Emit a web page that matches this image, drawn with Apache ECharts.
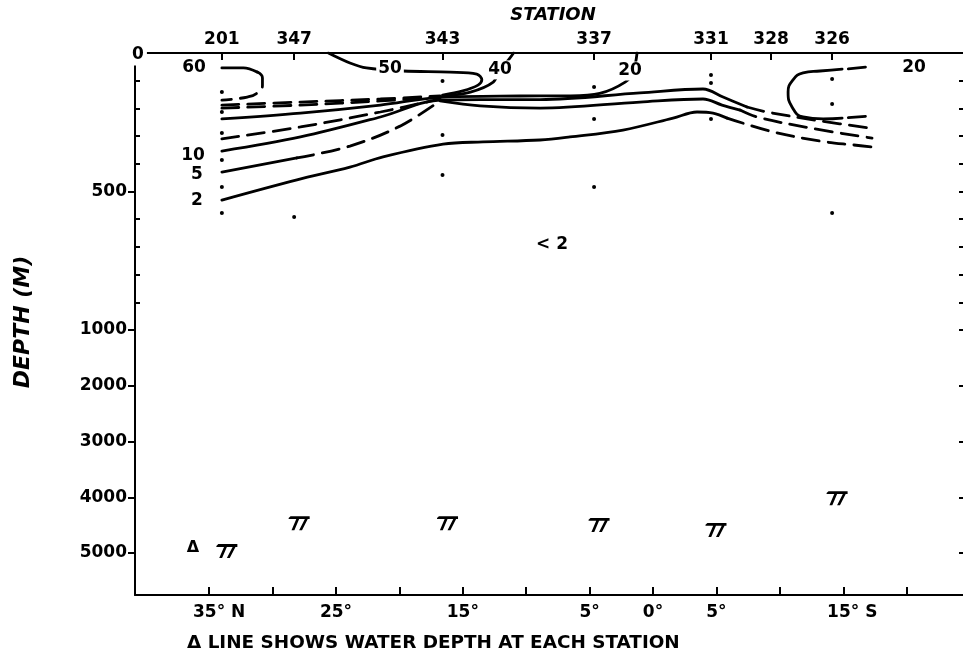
<!DOCTYPE html>
<html>
<head>
<meta charset="utf-8">
<script src="https://cdn.jsdelivr.net/npm/echarts@6/dist/echarts.min.js"></script>
<style>
  html, body { margin: 0; padding: 0; background: #fff; }
  #chart { width: 963px; height: 658px; }
</style>
</head>
<body>
<div id="chart"></div>
<script>
// Stations along the section; latitude in degrees, positive north
const stationNames = ['201', '347', '343', '337', '331', '328', '326'];
const stationLat = [34.0, 28.3, 16.6, 4.65, -4.57, -9.31, -14.12];

// Latitude ticks and labelled latitudes on the bottom axis
const latTicks = [35, 30, 25, 20, 15, 10, 5, 0, -5, -10, -15, -20];
const latLabelValues = [35, 25, 15, 5, 0, -5, -15];

// Depth axis ticks (m): expanded upper 1000 m, compressed deep part
const upperDepthTicks = [0, 100, 200, 300, 400, 500, 600, 700, 800, 900, 1000];
const upperMajorTicks = [500, 1000];
const upperMinorTicks = [100, 200, 300, 400, 600, 700, 800, 900];
const upperDepthLabels = [500, 1000];
const surfaceLabel = '0';
const lowerDepthTicks = [1000, 2000, 3000, 4000, 5000];
const lowerDepthLabels = [2000, 3000, 4000, 5000];

// Sampling depths [lat, depth]
const sampleDots = [
  [34.0, 141], [34.0, 213], [34.0, 289], [34.0, 386], [34.0, 484], [34.0, 578],
  [28.3, 592],
  [16.6, 101], [16.6, 296], [16.6, 440],
  [4.65, 123], [4.65, 238], [4.65, 484],
  [-4.57, 79], [-4.57, 108], [-4.57, 238],
  [-14.12, 94], [-14.12, 184], [-14.12, 578]
];

// Water depth at each station
const bottomLat = [34.0, 28.3, 16.6, 4.65, -4.57, -14.12];
const bottomDepth = [4840, 4340, 4340, 4370, 4460, 3890];

// Contours [lat, depth]
const c60Solid = [[34.0, 54], [32.3, 54], [31.2, 69]];
const c60Dashed = [[31.2, 69], [30.8, 90], [30.8, 116], [31.2, 144], [32.0, 159], [34.0, 170]];
const c50 = [[25.6, 0], [23.9, 36], [22.6, 54], [19.7, 65], [16.0, 69], [13.9, 76], [13.5, 97], [13.8, 116], [15.0, 137], [16.6, 152]];
const c40 = [[11.0, 0], [11.4, 25], [12.1, 61], [12.6, 105], [14.4, 141], [16.6, 155]];
const c20 = [[1.26, 0], [1.58, 69], [2.2, 105], [4.2, 146], [6.5, 155], [8.9, 155], [12.1, 156], [16.8, 160], [21.5, 188], [27.8, 217], [34.0, 238]];
const westDashA = [[34.0, 188], [27.8, 177], [21.5, 166], [16.8, 155]];
const westDashB = [[34.0, 199], [27.8, 188], [21.5, 173], [16.8, 159]];
const westDashD = [[34.0, 310], [27.8, 267], [21.5, 213], [16.8, 166]];
const c10 = [[34.0, 354], [27.8, 303], [21.5, 231], [16.8, 170], [13.64, 168], [8.91, 168], [1.03, 144], [-3.94, 130], [-5.52, 159], [-7.41, 195]];
const c10Dashed = [[-7.41, 195], [-8.99, 213], [-13.17, 245], [-17.11, 271]];
const c5Solid = [[34.0, 430], [28.08, 379]];
const c5DashedWest = [[28.08, 379], [23.9, 336], [19.95, 264], [16.8, 173]];
const c5 = [[16.8, 173], [13.64, 191], [8.91, 199], [1.03, 177], [-3.94, 166], [-5.44, 188], [-6.86, 206]];
const c5Dashed = [[-6.86, 206], [-8.2, 231], [-12.4, 271], [-17.27, 307]];
const c2 = [[34.0, 531], [28.08, 458], [23.9, 412], [21.29, 375], [16.56, 329], [13.41, 321], [8.91, 314], [6.55, 303], [2.37, 278], [-1.58, 235], [-3.47, 213], [-4.73, 217], [-5.84, 235]];
const c2Dashed = [[-5.84, 235], [-9.46, 285], [-13.17, 318], [-15.8, 332], [-17.27, 339]];
const loop326 = [[-14.91, 58], [-13.17, 65], [-11.83, 72], [-11.04, 97], [-10.65, 141], [-10.96, 195], [-11.83, 231], [-13.41, 238], [-14.91, 235]];
const loop326TopDash = [[-15.4, 57], [-16.75, 51]];
const loop326BottomDash = [[-15.4, 233], [-16.75, 229]];

// Contour values written on the section [lat, depth, text]
const edgeLabels = [[36.2, 51, '60'], [36.28, 372, '10'], [35.96, 440, '5'], [35.96, 531, '2'], [7.97, 693, '< 2'], [-20.58, 54, '20']];
const inlineLabels = [[20.74, 58, '50'], [12.07, 61, '40'], [1.81, 65, '20']];

const LAT_MIN = -24.6, LAT_MAX = 40.85;
const FONT = 'DejaVu Sans';
const INK = '#000';

function latText(v) {
  if (v === 35) return '{padN|}35° N';
  if (v === -15) return '{padS|}15° S';
  return Math.abs(v) + '°';
}

function contour(data, dashed, smooth) {
  return {
    type: 'line', xAxisIndex: 0, yAxisIndex: 0, data: data,
    showSymbol: false, symbol: 'none', silent: true, animation: false,
    smooth: smooth === undefined ? 0.35 : smooth,
    lineStyle: { color: INK, width: 2.8, type: dashed ? [17, 9] : 'solid', cap: 'round', opacity: 1 },
    z: 3
  };
}

const chart = echarts.init(document.getElementById('chart'), null, { renderer: 'canvas' });

const labelText = { fontFamily: FONT, fontWeight: 'bold', fontSize: 17, color: INK, textBorderWidth: 0, opacity: 1 };
const plainNumber = function (v) { return String(v); };
const axisLineStyle = { show: true, onZero: false, lineStyle: { color: INK, width: 2 } };
const tickStyle = { color: INK, width: 2 };

chart.setOption({
  backgroundColor: '#fff',
  animation: false,
  grid: [
    { left: 135, top: 53, width: 830, height: 277, outerBoundsMode: 'none' },
    { left: 135, top: 330, width: 830, height: 265, outerBoundsMode: 'none' },
    // overlay of the upper panel carrying the inward 100 m ticks
    { left: 135, top: 53, width: 830, height: 277, outerBoundsMode: 'none' }
  ],
  xAxis: [
    {
      gridIndex: 0, type: 'value', position: 'top', min: LAT_MIN, max: LAT_MAX, inverse: true,
      axisLine: axisLineStyle,
      axisTick: { show: true, inside: true, length: 7, customValues: stationLat, lineStyle: tickStyle },
      axisLabel: Object.assign({ customValues: stationLat, margin: 5,
        formatter: function (v) {
          for (let i = 0; i < stationLat.length; i++) if (Math.abs(stationLat[i] - v) < 1e-6) return stationNames[i];
          return '';
        } }, labelText),
      splitLine: { show: false }
    },
    {
      gridIndex: 1, type: 'value', position: 'bottom', min: LAT_MIN, max: LAT_MAX, inverse: true,
      axisLine: axisLineStyle,
      axisTick: { show: true, inside: true, length: 8, customValues: latTicks, lineStyle: tickStyle },
      axisLabel: Object.assign({ customValues: latLabelValues, margin: 9, formatter: latText,
        rich: { padN: { width: 20 }, padS: { width: 18 } } }, labelText),
      splitLine: { show: false }
    },
    {
      gridIndex: 2, type: 'value', min: LAT_MIN, max: LAT_MAX, inverse: true, show: false
    }
  ],
  yAxis: [
    {
      gridIndex: 0, type: 'value', position: 'left', min: 0, max: 1000, inverse: true,
      axisLine: axisLineStyle,
      axisTick: { show: true, length: 7, customValues: upperMajorTicks, lineStyle: tickStyle },
      axisLabel: Object.assign({ customValues: upperDepthLabels, margin: 8, formatter: plainNumber }, labelText),
      splitLine: { show: false }
    },
    {
      gridIndex: 0, type: 'value', position: 'right', min: 0, max: 1000, inverse: true,
      axisLine: axisLineStyle,
      axisTick: { show: true, inside: true, length: 6, customValues: upperDepthTicks, lineStyle: tickStyle },
      axisLabel: { show: false },
      splitLine: { show: false }
    },
    {
      gridIndex: 1, type: 'value', position: 'left', min: 1000, max: 5753, inverse: true,
      axisLine: axisLineStyle,
      axisTick: { show: true, length: 7, customValues: lowerDepthTicks, lineStyle: tickStyle },
      axisLabel: Object.assign({ customValues: lowerDepthLabels, margin: 8, formatter: plainNumber }, labelText),
      splitLine: { show: false }
    },
    {
      gridIndex: 1, type: 'value', position: 'right', min: 1000, max: 5753, inverse: true,
      axisLine: axisLineStyle,
      axisTick: { show: true, inside: true, length: 6, customValues: lowerDepthTicks, lineStyle: tickStyle },
      axisLabel: { show: false },
      splitLine: { show: false }
    },
    {
      gridIndex: 2, type: 'value', position: 'left', min: 0, max: 1000, inverse: true,
      axisLine: { show: false, onZero: false },
      axisTick: { show: true, inside: true, length: 5, customValues: upperMinorTicks, lineStyle: tickStyle },
      axisLabel: { show: false },
      splitLine: { show: false }
    }
  ],
  series: [
    contour(c60Solid, false),
    contour(c60Dashed, true, 0.5),
    contour(c50, false),
    contour(c40, false),
    contour(c20, false),
    contour(westDashA, true),
    contour(westDashB, true),
    contour(westDashD, true),
    contour(c10, false),
    contour(c10Dashed, true),
    contour(c5Solid, false),
    contour(c5DashedWest, true),
    contour(c5, false),
    contour(c5Dashed, true),
    contour(c2, false),
    contour(c2Dashed, true),
    contour(loop326, false, 0.5),
    contour(loop326TopDash, false, 0),
    contour(loop326BottomDash, false, 0),
    {
      type: 'scatter', xAxisIndex: 0, yAxisIndex: 0, data: sampleDots, silent: true,
      symbol: 'circle', symbolSize: 4, itemStyle: { color: INK, opacity: 1 }, z: 4
    },
    {
      type: 'scatter', xAxisIndex: 0, yAxisIndex: 0, data: edgeLabels, silent: true,
      symbolSize: 0, z: 6, itemStyle: { color: INK, opacity: 1 },
      label: Object.assign({ show: true, position: 'inside', formatter: function (p) { return p.value[2]; } }, labelText)
    },
    {
      type: 'scatter', xAxisIndex: 0, yAxisIndex: 0, data: inlineLabels, silent: true,
      symbolSize: 0, z: 6, itemStyle: { color: INK, opacity: 1 },
      label: Object.assign({ show: true, position: 'inside', backgroundColor: '#fff', padding: [1, 2],
        formatter: function (p) { return p.value[2]; } }, labelText)
    },
    {
      type: 'scatter', xAxisIndex: 1, yAxisIndex: 2, silent: true, z: 4,
      data: bottomLat.map(function (lat, i) { return [lat, bottomDepth[i]]; }),
      symbol: 'path://M0,2 L2,0 L22,0 L22,3 L0,3 Z M8,3 L11,3 L6,15 L3,15 Z M17,3 L20,3 L14,15 L11,15 Z',
      symbolSize: [21, 14], symbolOffset: [5, 7], itemStyle: { color: INK, opacity: 1 }
    }
  ],
  graphic: [
    // surface depth mark sitting on the top-left corner of the frame
    { type: 'text', x: 138, y: 55, z: 100, style: { text: surfaceLabel, fontFamily: FONT, fontWeight: 'bold', fontSize: 17, fill: INK, align: 'center', verticalAlign: 'middle', backgroundColor: '#fff', padding: [2, 3] } },
    { type: 'text', x: 553, y: 15, style: { text: 'STATION', fontFamily: FONT, fontWeight: 'bold', fontStyle: 'italic', fontSize: 18, fill: INK, align: 'center', verticalAlign: 'middle' } },
    { type: 'text', x: 23, y: 322, rotation: Math.PI / 2, style: { text: 'DEPTH (M)', fontFamily: FONT, fontWeight: 'bold', fontStyle: 'italic', fontSize: 22, fill: INK, align: 'center', verticalAlign: 'middle' } },
    { type: 'text', x: 193, y: 548, style: { text: 'Δ', fontFamily: FONT, fontWeight: 'bold', fontSize: 16, fill: INK, align: 'center', verticalAlign: 'middle' } },
    { type: 'text', x: 187, y: 643, style: { text: 'Δ LINE SHOWS WATER DEPTH AT EACH STATION', fontFamily: FONT, fontWeight: 'bold', fontSize: 18.4, fill: INK, align: 'left', verticalAlign: 'middle' } }
  ]
});
</script>
</body>
</html>
